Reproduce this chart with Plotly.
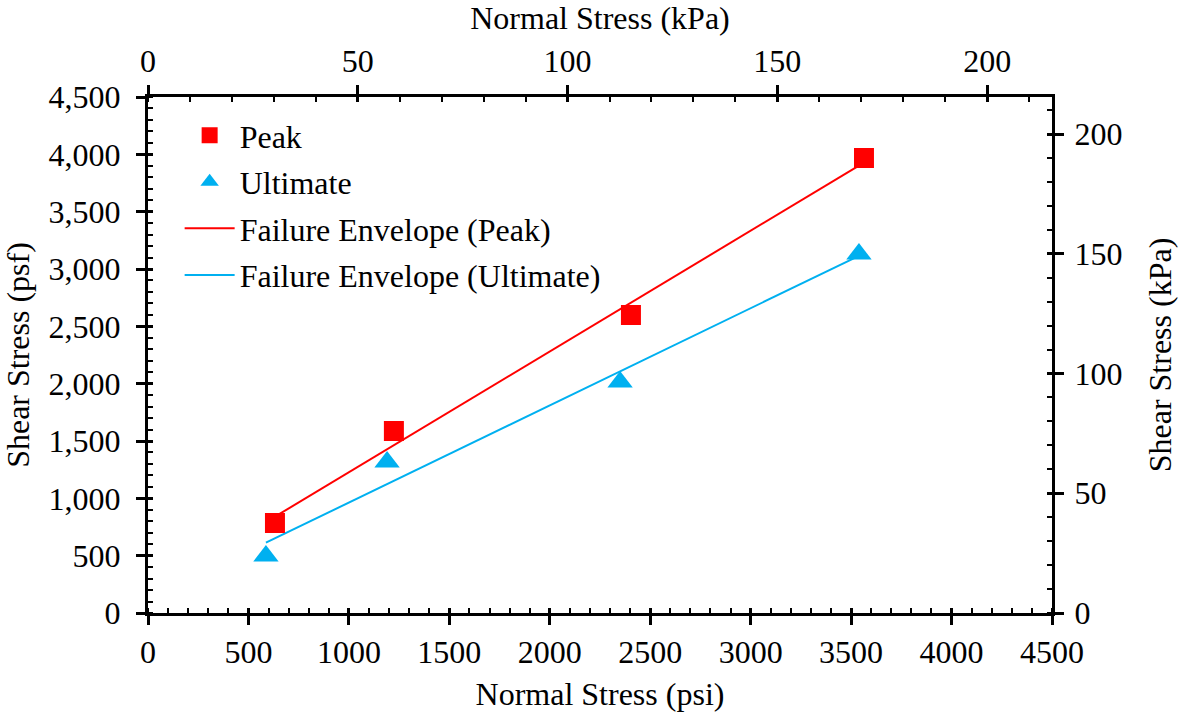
import plotly.graph_objects as go

# ---- data ----
peak_x = [632, 1224, 2404, 3564]
peak_y = [785, 1587, 2599, 3968]
ult_x = [587, 1190, 2350, 3539]
ult_y = [497, 1317, 2014, 3131]
env_peak_x = [632, 3564]
env_peak_y = [840, 3928]
env_ult_x = [587, 3539]
env_ult_y = [613, 3115]

psf_max = 4500
psf_to_kpa = 0.0478803
kpa_max = psf_max * psf_to_kpa

RED = "#FF0000"
BLUE = "#00B0F0"
FONT = "Liberation Serif, Times New Roman, serif"
FS = 32

fig = go.Figure()
fig.add_trace(go.Scatter(x=env_peak_x, y=env_peak_y, mode="lines",
                         name="Failure Envelope (Peak)",
                         line=dict(color=RED, width=2), legendgroup="c", legendrank=3))
fig.add_trace(go.Scatter(x=env_ult_x, y=env_ult_y, mode="lines",
                         name="Failure Envelope (Ultimate)",
                         line=dict(color=BLUE, width=2), legendgroup="d", legendrank=4))
fig.add_trace(go.Scatter(x=peak_x, y=peak_y, mode="markers", name="Peak",
                         marker=dict(symbol="square", size=20, color=RED),
                         legendgroup="a", legendrank=1))
fig.add_trace(go.Scatter(x=ult_x, y=ult_y, mode="markers", name="Ultimate",
                         marker=dict(symbol="triangle-up", size=22, color=BLUE),
                         legendgroup="b", legendrank=2))

# empty traces to anchor secondary axes
fig.add_trace(go.Scatter(x=[], y=[], xaxis="x2", yaxis="y2", showlegend=False, hoverinfo="skip"))
fig.add_trace(go.Scatter(x=[], y=[], xaxis="x3", yaxis="y3", showlegend=False, hoverinfo="skip"))
fig.add_trace(go.Scatter(x=[], y=[], xaxis="x4", yaxis="y4", showlegend=False, hoverinfo="skip"))

tickfont = dict(family=FONT, size=FS, color="black")
common = dict(showgrid=False, zeroline=False, tickfont=tickfont, automargin=False,
              linecolor="black", tickcolor="black", ticks="outside",
              ticklen=9, tickwidth=2.5)
minor_in = lambda d: dict(ticks="inside", ticklen=5, tickwidth=2, tickcolor="black", dtick=d)
inner = dict(showline=False, showticklabels=False, ticks="inside", ticklen=5, tickwidth=2.5,
             tickcolor="black", showgrid=False, zeroline=False, automargin=False)

fig.update_layout(
    width=1179, height=714,
    paper_bgcolor="white", plot_bgcolor="white",
    margin=dict(l=148, r=127, t=97, b=101),
    font=dict(family=FONT, size=FS, color="black"),
    showlegend=True,
    legend=dict(x=0.035, y=0.979, xanchor="left", yanchor="top",
                bgcolor="rgba(0,0,0,0)", font=dict(family=FONT, size=FS),
                traceorder="grouped", tracegroupgap=2, itemwidth=50),
    xaxis=dict(range=[0, psf_max], dtick=500, tick0=0, showline=True, linewidth=3,
               title=dict(text="Normal Stress (psi)", font=dict(family=FONT, size=FS), standoff=14),
               minor=minor_in(100), anchor="y", side="bottom", **common),
    yaxis=dict(range=[0, psf_max], dtick=500, tick0=0, tickformat=",", showline=True, linewidth=3,
               ticklabelstandoff=9,
               title=dict(text="Shear Stress (psf)", font=dict(family=FONT, size=FS), standoff=14),
               minor=minor_in(100), anchor="x", side="left", **common),
    xaxis2=dict(range=[0, kpa_max], dtick=50, tick0=0, showline=True, linewidth=3,
                title=dict(text="Normal Stress (kPa)", font=dict(family=FONT, size=FS), standoff=12),
                minor=minor_in(10), overlaying="x", anchor="y", side="top", **common),
    yaxis2=dict(range=[0, kpa_max], dtick=50, tick0=0, showline=True, linewidth=3,
                ticklabelstandoff=4,
                title=dict(text="Shear Stress (kPa)", font=dict(family=FONT, size=FS), standoff=28),
                minor=minor_in(10), overlaying="y", anchor="x", side="right", **common),
    # overlay axes that draw the inner half of the major ticks
    xaxis3=dict(range=[0, psf_max], dtick=500, tick0=0, overlaying="x", anchor="y3",
                side="bottom", **inner),
    yaxis3=dict(range=[0, psf_max], dtick=500, tick0=0, overlaying="y", anchor="x3",
                side="left", **inner),
    xaxis4=dict(range=[0, kpa_max], dtick=50, tick0=0, overlaying="x", anchor="y4",
                side="top", **inner),
    yaxis4=dict(range=[0, kpa_max], dtick=50, tick0=0, overlaying="y", anchor="x4",
                side="right", **inner),
)

fig.write_html("out.html", config={"displayModeBar": False},
               post_script="document.body.style.margin='0';document.body.style.overflow='hidden';")
